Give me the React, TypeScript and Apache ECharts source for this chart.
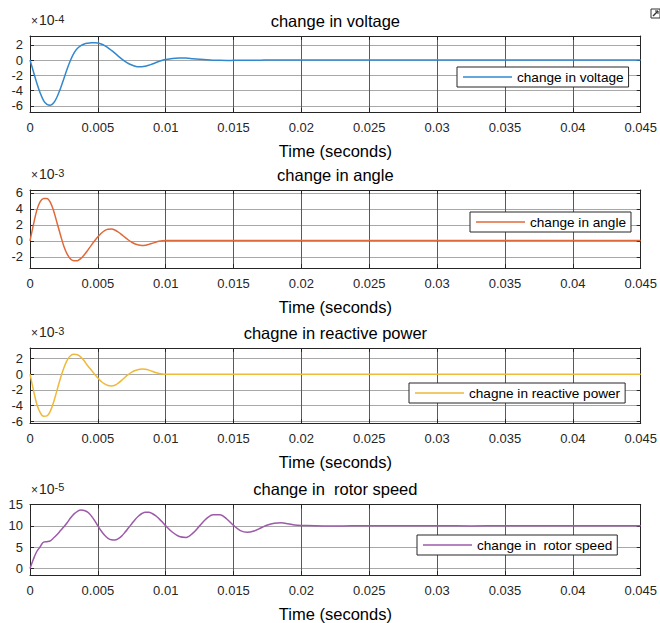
import React, { useEffect, useRef } from "react";
import * as echarts from "echarts";

// time in seconds
const time = [
  0, 0.00025, 0.0005, 0.00075, 0.001, 0.00125, 0.0015, 0.00175, 0.002, 0.00225,
  0.0025, 0.00275, 0.003, 0.00325, 0.0035, 0.00375, 0.004, 0.00425, 0.0045, 0.00475,
  0.005, 0.00525, 0.0055, 0.00575, 0.006, 0.00625, 0.0065, 0.00675, 0.007, 0.00725,
  0.0075, 0.00775, 0.008, 0.00825, 0.0085, 0.00875, 0.009, 0.00925, 0.0095, 0.00975,
  0.01, 0.0105, 0.011, 0.0115, 0.012, 0.0125, 0.013, 0.0135, 0.014, 0.0145,
  0.015, 0.0155, 0.016, 0.0165, 0.017, 0.0175, 0.018, 0.0185, 0.019, 0.0195,
  0.02, 0.0225, 0.025, 0.0275, 0.03, 0.0325, 0.035, 0.0375, 0.04, 0.0425, 0.045,
];

// change in voltage (x 1e-4)
const voltage = [
  0, -1.5, -3.0, -4.3, -5.3, -5.8, -5.9, -5.6, -4.8, -3.7,
  -2.4, -1.1, 0.05, 0.95, 1.55, 1.9, 2.1, 2.2, 2.26, 2.27,
  2.22, 2.1, 1.9, 1.6, 1.26, 0.9, 0.52, 0.16, -0.17, -0.45,
  -0.65, -0.8, -0.87, -0.87, -0.8, -0.68, -0.52, -0.35, -0.18, -0.03,
  0.08, 0.22, 0.28, 0.26, 0.18, 0.1, 0.03, -0.02, -0.04, -0.05,
  -0.04, -0.03, -0.02, -0.01, -0.01, 0, 0, 0.01, 0.01, 0.01,
  0.01, 0.02, 0.01, 0, 0.01, 0.02, 0.02, 0.01, 0.02, 0.02, 0.02,
];

// change in angle (x 1e-3)
const angle = [
  0, 2.0, 3.8, 4.9, 5.3, 5.3, 4.8, 3.7, 2.2, 0.7,
  -0.7, -1.7, -2.3, -2.5, -2.48, -2.2, -1.75, -1.2, -0.6, -0.02,
  0.5, 0.95, 1.28, 1.45, 1.46, 1.35, 1.1, 0.78, 0.42, 0.1,
  -0.18, -0.4, -0.53, -0.58, -0.55, -0.45, -0.32, -0.18, -0.06, 0.02,
  0.05, 0.05, 0.05, 0.05, 0.05, 0.05, 0.05, 0.05, 0.05, 0.05,
  0.05, 0.05, 0.05, 0.05, 0.05, 0.05, 0.05, 0.05, 0.05, 0.05,
  0.05, 0.05, 0.05, 0.05, 0.05, 0.05, 0.05, 0.05, 0.05, 0.05, 0.05,
];

// change in reactive power (x 1e-3)
const reactivePower = [
  0, -2.0, -3.8, -4.9, -5.35, -5.3, -4.7, -3.5, -2.0, -0.5,
  0.8, 1.8, 2.35, 2.5, 2.45, 2.15, 1.65, 1.05, 0.55, 0.0,
  -0.5, -0.95, -1.25, -1.45, -1.5, -1.42, -1.15, -0.8, -0.4, -0.05,
  0.25, 0.45, 0.58, 0.63, 0.6, 0.5, 0.35, 0.2, 0.08, 0.0,
  -0.03, -0.04, -0.04, -0.04, -0.04, -0.04, -0.04, -0.04, -0.04, -0.04,
  -0.04, -0.04, -0.04, -0.04, -0.04, -0.04, -0.04, -0.04, -0.04, -0.04,
  -0.04, -0.04, -0.04, -0.04, -0.04, -0.04, -0.04, -0.04, -0.04, -0.04, -0.04,
];

// change in rotor speed (x 1e-5)
const rotorSpeed = [
  0, 2.2, 4.0, 5.1, 6.2, 6.3, 6.5, 7.2, 8.0, 8.9,
  9.8, 10.8, 11.9, 12.8, 13.4, 13.7, 13.6, 13.2, 12.4, 11.3,
  10.0, 8.8, 7.8, 7.1, 6.75, 6.7, 7.0, 7.6, 8.5, 9.5,
  10.5, 11.5, 12.3, 12.9, 13.2, 13.2, 12.9, 12.4, 11.7, 10.9,
  10.0, 8.5, 7.5, 7.3, 8.3, 10.0, 11.7, 12.6, 12.6, 11.6,
  10.1, 8.9, 8.5, 8.8, 9.5, 10.2, 10.6, 10.7, 10.5, 10.2,
  10.1, 9.95, 10.05, 10.0, 10.05, 9.98, 10.02, 10.0, 10.03, 10.0, 10.02,
];

const seriesNames = [
  "change in voltage",
  "change in angle",
  "chagne in reactive power",
  "change in  rotor speed",
];
const seriesValues = [voltage, angle, reactivePower, rotorSpeed];
const exponents = ["-4", "-3", "-3", "-5"];
const yTickValues = [
  [-6, -4, -2, 0, 2],
  [-2, 0, 2, 4, 6],
  [-6, -4, -2, 0, 2],
  [0, 5, 10, 15],
];
const yLimits = [
  [-6.8, 3.15],
  [-3.4, 6.35],
  [-6.2, 3.3],
  [-1.5, 15],
];
const xMin = 0;
const xMax = 0.045;
const xStep = 0.005;

const colors = ["#3288cf", "#e0693a", "#efb93a", "#9c5aa9"];
const gridTops = [36, 190, 348, 504.5];
const gridHeights = [76, 78, 75, 74];
const legendPos = [
  [457, 67],
  [470, 212],
  [409, 383],
  [417, 535],
];

const FONT = "'Liberation Sans', Arial, Helvetica, sans-serif";
const AX = "#262626";

export default function App() {
  const ref = useRef<HTMLDivElement>(null);
  useEffect(() => {
    if (!ref.current) return;
    const chart = echarts.init(ref.current, undefined, { renderer: "svg" });

    const grids: any[] = [];
    const xAxes: any[] = [];
    const yAxes: any[] = [];
    const series: any[] = [];
    const legends: any[] = [];
    const graphics: any[] = [];

    for (let i = 0; i < 4; i++) {
      grids.push({ left: 30, right: 16.5, top: gridTops[i], height: gridHeights[i], show: false });
      const xCommon = {
        gridIndex: i,
        type: "value",
        min: xMin,
        max: xMax,
        interval: xStep,
        axisLine: { show: true, onZero: false, lineStyle: { color: AX, width: 1 } },
        axisTick: { show: true, inside: true, length: 4, lineStyle: { color: AX } },
      };
      xAxes.push({
        ...xCommon,
        position: "bottom",
        axisLabel: {
          color: AX,
          fontSize: 13,
          margin: 9,
          fontFamily: FONT,
          formatter: (v: number) => String(parseFloat(v.toFixed(4))),
        },
        splitLine: { show: true, lineStyle: { color: "#5a5a5a", width: 1 } },
        name: "Time (seconds)",
        nameLocation: "middle",
        nameGap: 30,
        nameTextStyle: { color: "#000", fontSize: 16.5, fontFamily: FONT },
      });
      xAxes.push({
        ...xCommon,
        position: "top",
        axisLabel: { show: false },
        splitLine: { show: false },
        name: seriesNames[i],
        nameLocation: "middle",
        nameGap: 7,
        nameTextStyle: { color: "#000", fontSize: 16.5, fontFamily: FONT },
      });
      const yCommon = {
        gridIndex: i,
        type: "value",
        min: yLimits[i][0],
        max: yLimits[i][1],
        axisLine: { show: true, onZero: false, lineStyle: { color: AX, width: 1 } },
        axisTick: {
          show: true,
          inside: true,
          length: 4,
          lineStyle: { color: AX },
          customValues: yTickValues[i],
        },
      };
      yAxes.push({
        ...yCommon,
        position: "left",
        axisLabel: {
          color: AX,
          fontSize: 13,
          margin: 7,
          fontFamily: FONT,
          customValues: yTickValues[i],
          formatter: (v: number) => String(v),
        },
        splitLine: { show: true, lineStyle: { color: "#a8a8a8", width: 1 } },
      });
      yAxes.push({
        ...yCommon,
        position: "right",
        axisLabel: { show: false, customValues: yTickValues[i] },
        splitLine: { show: false },
      });

      series.push({
        name: seriesNames[i],
        type: "line",
        xAxisIndex: i * 2,
        yAxisIndex: i * 2,
        data: time.map((t, k) => [t, seriesValues[i][k]]),
        showSymbol: false,
        symbol: "none",
        smooth: 0.35,
        lineStyle: { color: colors[i], width: 1.5 },
        itemStyle: { color: colors[i] },
        z: 3,
      });

      legends.push({
        data: [seriesNames[i]],
        left: legendPos[i][0],
        top: legendPos[i][1],
        orient: "horizontal",
        icon: "rect",
        itemWidth: 49,
        itemHeight: 1.5,
        padding: [3, 5, 3, 6],
        borderColor: AX,
        borderWidth: 1,
        borderRadius: 0,
        backgroundColor: "#fff",
        selectedMode: false,
        textStyle: { color: "#000", fontSize: 13.6, fontFamily: FONT },
      });

      graphics.push({
        type: "text",
        left: 31,
        top: gridTops[i] - 23,
        style: {
          text: "{a|×}{b|10}{c|" + exponents[i] + "}",
          rich: {
            a: { fontSize: 12, lineHeight: 14, fill: AX, fontFamily: FONT, verticalAlign: "bottom", padding: [0, 1, 0, 0] },
            b: { fontSize: 14, lineHeight: 14, fill: AX, fontFamily: FONT, verticalAlign: "bottom" },
            c: { fontSize: 11, lineHeight: 12, fill: AX, fontFamily: FONT, verticalAlign: "top", padding: [0, 0, 8, 0] },
          },
        },
      });
    }

    graphics.push({
      type: "rect",
      shape: { x: 651, y: 9, width: 9, height: 9 },
      style: { fill: "#fff", stroke: "#333", lineWidth: 1 },
    });
    graphics.push({
      type: "polyline",
      shape: { points: [[653, 16], [658, 11]] },
      style: { stroke: "#333", lineWidth: 1.5 },
    });
    graphics.push({
      type: "polyline",
      shape: { points: [[655, 11], [658, 11], [658, 14]] },
      style: { stroke: "#333", lineWidth: 1, fill: "none" },
    });

    chart.setOption({
      animation: false,
      backgroundColor: "#fff",
      textStyle: { fontFamily: FONT },
      grid: grids,
      xAxis: xAxes,
      yAxis: yAxes,
      series,
      legend: legends,
      graphic: graphics,
    });
    return () => chart.dispose();
  }, []);
  return (
    <div
      ref={ref}
      style={{ position: "absolute", left: 0, top: 0, width: 660, height: 623 }}
    />
  );
}
